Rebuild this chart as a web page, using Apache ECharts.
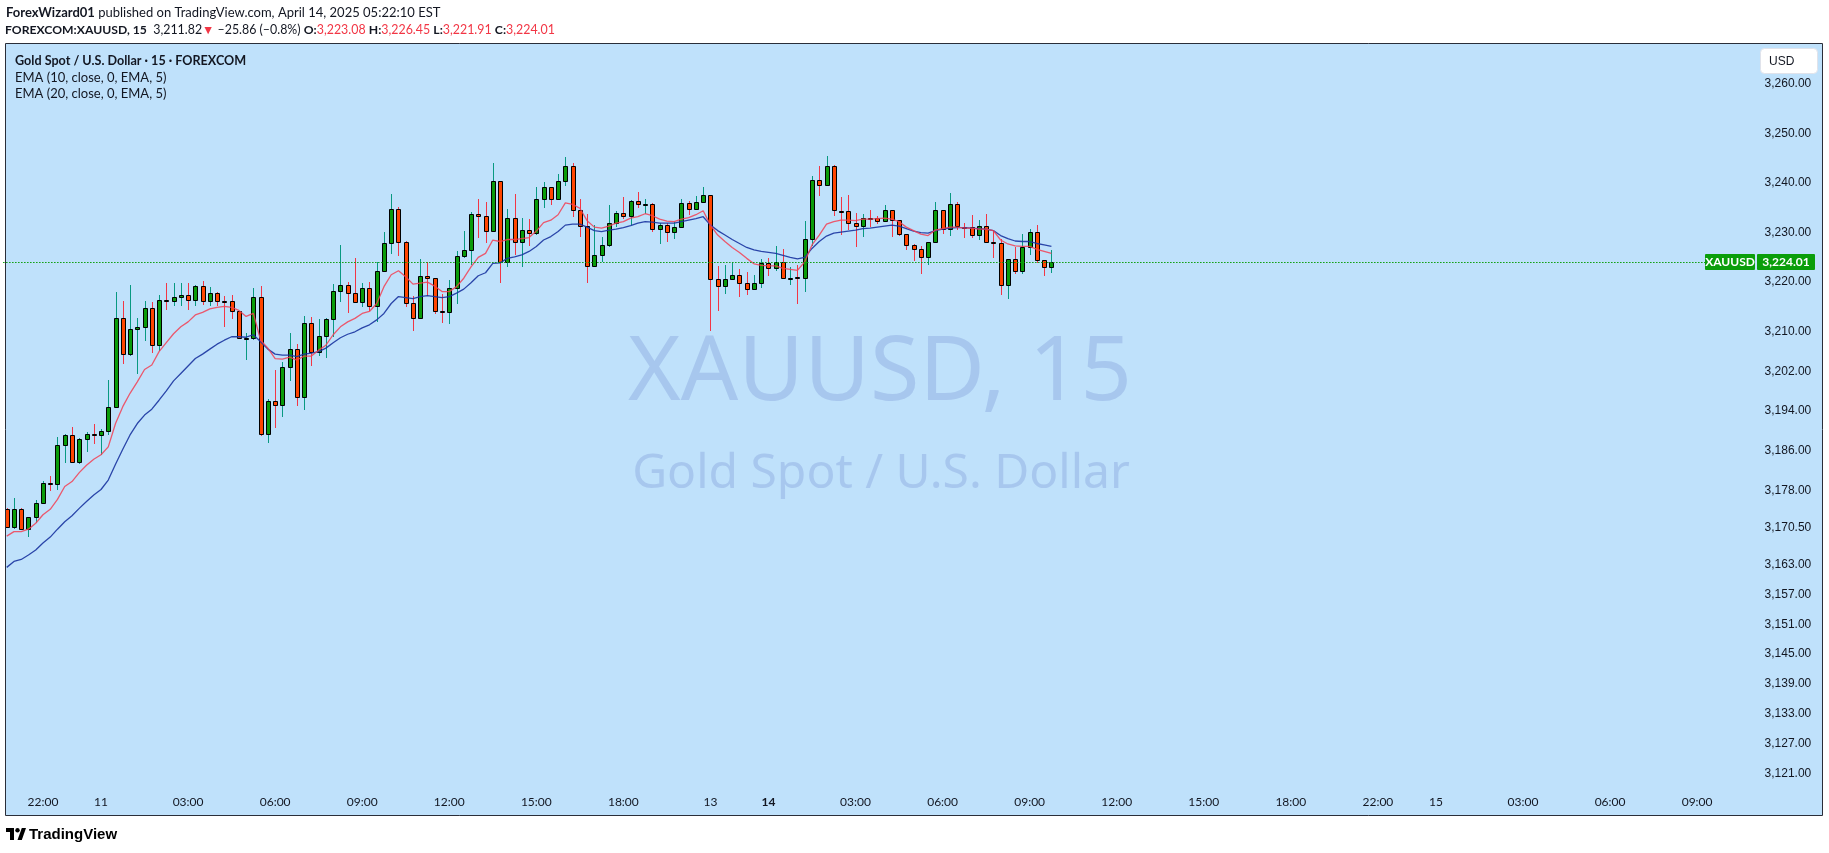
<!DOCTYPE html>
<html>
<head>
<meta charset="utf-8">
<script src="https://cdn.jsdelivr.net/npm/echarts@6/dist/echarts.min.js"></script>
<style>
html,body{margin:0;padding:0;background:#ffffff;}
#chart{width:1829px;height:853px;}
#err{position:absolute;left:600px;top:2px;font:12px monospace;color:#c00;white-space:pre;}
</style>
</head>
<body>
<div id="chart"></div>
<div id="err"></div>
<script>
window.onerror = function(msg, src, line, col, e){ document.getElementById('err').textContent += msg + ' @' + line + ':' + col + '\n'; };
</script>
<script>
// ---------------- DATA ----------------
const opens = [3174.2,3170.7,3174.2,3170.2,3172.7,3175.4,3179.6,3179.4,3187.1,3189.1,
3183.7,3188.3,3189.3,3189.1,3189.9,3194.9,3212.7,3205.6,3210.5,3210.9,
3214.7,3207.3,3216.4,3216.3,3217.1,3217.5,3216.5,3219.2,3216.3,3217.8,
3216.3,3216.3,3214.1,3208.7,3208.7,3217.0,3189.3,3196.0,3195.2,3202.8,
3206.5,3196.8,3211.7,3205.9,3209.1,3212.5,3218.2,3219.4,3217.8,3216.1,
3218.8,3215.1,3222.2,3227.8,3234.7,3228.0,3215.9,3212.7,3221.2,3220.8,
3214.1,3213.9,3218.8,3225.2,3226.4,3233.7,3233.3,3230.3,3240.3,3224.0,
3232.9,3228.0,3230.5,3230.0,3236.7,3239.1,3236.7,3240.3,3243.4,3234.5,
3231.3,3223.2,3225.4,3227.4,3231.9,3233.9,3233.3,3236.3,3235.7,3235.7,
3230.7,3231.5,3230.1,3231.1,3235.9,3234.7,3236.1,3237.5,3220.6,3219.2,
3220.6,3221.4,3219.8,3218.6,3219.8,3223.8,3222.8,3224.0,3220.85,3221.1,
3220.8,3228.8,3240.5,3239.5,3243.4,3234.4,3234.3,3231.9,3231.3,3232.9,
3232.9,3232.3,3234.5,3232.5,3229.8,3227.4,3226.6,3225.0,3228.0,3234.5,
3230.7,3235.7,3231.2,3231.1,3229.5,3231.3,3228.2,3227.8,3219.4,3224.6,
3222.2,3227.0,3230.1,3224.4,3223.08];
const closes = [3170.7,3174.2,3170.2,3172.7,3175.4,3179.6,3179.6,3187.1,3189.1,3183.7,
3188.3,3189.3,3189.3,3189.9,3194.9,3212.7,3205.6,3210.5,3210.9,3214.7,
3207.3,3216.5,3216.4,3217.1,3217.5,3216.5,3219.2,3216.3,3217.8,3216.3,
3216.3,3214.1,3208.7,3208.75,3217.0,3189.3,3196.0,3195.2,3202.8,3206.5,
3196.8,3211.7,3205.9,3209.1,3212.5,3218.2,3219.4,3217.8,3216.1,3218.8,
3215.1,3222.2,3227.8,3234.7,3228.0,3215.9,3212.7,3221.2,3220.8,3214.1,
3214.1,3218.8,3225.2,3226.4,3233.7,3233.3,3230.3,3240.3,3224.0,3232.9,
3228.0,3230.5,3230.0,3236.7,3239.1,3236.7,3240.3,3243.4,3234.5,3231.3,
3223.2,3225.4,3227.4,3231.9,3233.9,3233.3,3236.3,3235.7,3235.75,3230.7,
3231.5,3230.1,3231.1,3235.9,3234.7,3236.1,3237.5,3220.6,3219.2,3220.6,
3221.4,3219.8,3218.6,3219.8,3223.8,3222.8,3224.0,3220.8,3220.9,3221.1,
3228.8,3240.5,3239.5,3243.4,3234.5,3234.4,3231.9,3231.3,3232.9,3232.9,
3232.3,3234.5,3232.5,3229.8,3227.4,3226.6,3225.0,3228.0,3234.5,3230.7,
3235.7,3231.3,3231.2,3229.5,3231.3,3228.2,3227.8,3219.4,3224.6,3222.2,
3227.0,3230.1,3224.4,3223.0,3224.01];
const lows = [3170.7,3170.3,3170.2,3168.6,3171.4,3175.4,3177.8,3178.1,3183.5,3183.7,
3183.3,3185.8,3187.4,3185.2,3189.1,3194.9,3203.6,3205.2,3201.4,3208.2,
3205.8,3206.2,3214.4,3215.1,3215.1,3214.3,3215.1,3215.3,3215.1,3215.1,
3211.0,3212.6,3208.7,3204.3,3208.3,3189.0,3187.5,3190.5,3192.9,3200.1,
3195.1,3194.2,3203.0,3205.2,3204.8,3208.9,3216.1,3213.7,3215.9,3214.9,
3214.1,3212.0,3222.2,3225.6,3225.3,3215.0,3210.2,3212.7,3217.3,3213.5,
3211.7,3211.5,3215.5,3224.8,3223.4,3229.0,3227.8,3230.3,3219.9,3223.1,
3225.4,3223.1,3227.2,3229.6,3234.9,3235.5,3236.7,3239.3,3233.2,3229.2,
3219.9,3223.2,3224.0,3227.0,3231.1,3232.7,3231.5,3235.0,3233.7,3230.1,
3227.6,3228.0,3228.8,3231.1,3233.6,3234.7,3236.1,3210.2,3214.1,3217.6,
3220.6,3217.1,3217.5,3218.4,3218.8,3221.2,3222.2,3220.8,3219.4,3215.7,
3218.0,3227.2,3237.3,3239.3,3233.3,3229.6,3230.5,3227.0,3229.2,3231.1,
3231.7,3232.3,3229.2,3229.4,3226.4,3224.2,3221.6,3223.4,3228.0,3229.8,
3229.4,3230.5,3229.0,3229.0,3228.6,3228.2,3224.9,3217.5,3216.7,3221.6,
3221.6,3225.4,3223.8,3221.2,3221.91];
const highs = [3174.4,3176.5,3174.5,3172.7,3176.1,3180.0,3180.9,3188.7,3189.4,3190.9,
3188.5,3189.7,3191.4,3190.3,3200.3,3218.0,3216.2,3219.4,3212.7,3216.2,
3216.0,3217.5,3219.8,3219.8,3219.8,3219.8,3219.4,3220.2,3219.0,3218.0,
3217.2,3217.4,3214.1,3209.7,3218.8,3219.2,3196.4,3202.3,3204.0,3209.7,
3207.5,3213.2,3212.9,3212.5,3212.7,3219.6,3227.4,3220.0,3224.9,3219.8,
3220.0,3224.1,3230.1,3237.8,3235.1,3228.4,3217.3,3224.6,3224.0,3220.8,
3217.7,3220.4,3226.2,3230.3,3234.1,3236.7,3236.1,3244.0,3240.3,3234.7,
3237.8,3232.9,3232.7,3239.1,3240.1,3239.1,3241.8,3245.2,3244.0,3236.7,
3233.8,3231.6,3229.1,3235.6,3234.4,3237.2,3236.6,3238.2,3236.7,3235.9,
3231.9,3231.9,3232.1,3236.7,3236.3,3237.3,3239.1,3237.5,3223.2,3223.4,
3224.0,3222.6,3222.0,3221.4,3224.6,3224.8,3227.2,3226.6,3223.0,3223.4,
3232.3,3241.4,3243.4,3245.4,3243.6,3237.1,3237.5,3233.9,3233.7,3234.5,
3233.3,3235.5,3234.5,3232.5,3229.8,3227.7,3227.2,3228.0,3236.2,3234.5,
3238.0,3236.1,3231.9,3233.5,3232.5,3233.7,3230.5,3228.8,3224.6,3227.0,
3229.8,3230.7,3231.5,3224.4,3226.45];
const ema10 = [3168.8,3169.7,3169.7,3170.2,3171.4,3173.1,3174.2,3176.2,3178.8,3179.8,
3181.6,3183.1,3184.3,3185.2,3186.8,3191.5,3194.9,3197.6,3199.9,3202.4,
3203.3,3206.0,3207.8,3209.6,3211.0,3212.0,3213.4,3213.9,3214.6,3214.9,
3215.1,3214.9,3214.3,3213.1,3213.7,3208.3,3206.7,3204.6,3204.5,3204.9,
3204.3,3205.1,3205.1,3206.3,3207.3,3209.4,3211.0,3212.0,3212.7,3213.7,
3214.1,3215.7,3219.1,3221.5,3222.3,3221.1,3219.6,3219.8,3220.0,3219.2,
3218.1,3218.1,3219.1,3220.8,3223.1,3225.0,3225.8,3228.5,3228.2,3228.6,
3228.6,3228.8,3229.0,3230.3,3232.0,3232.5,3233.6,3236.0,3235.7,3234.9,
3232.4,3231.1,3230.9,3231.3,3231.9,3232.2,3232.9,3233.2,3233.8,3233.4,
3232.7,3232.3,3232.2,3232.7,3233.0,3233.6,3234.4,3231.5,3229.5,3228.2,
3227.0,3226.0,3224.8,3223.7,3223.4,3223.3,3223.3,3222.8,3222.6,3222.4,
3224.1,3227.5,3229.5,3231.7,3232.2,3232.5,3232.5,3232.4,3232.7,3232.7,
3232.8,3232.9,3232.7,3232.2,3231.1,3230.4,3229.7,3229.4,3230.5,3230.8,
3231.1,3231.1,3230.9,3230.9,3230.7,3230.7,3230.4,3228.5,3227.7,3227.3,
3227.2,3227.2,3226.6,3226.2,3225.8];
const ema20 = [3162.5,3163.7,3164.1,3165.0,3166.0,3167.4,3168.6,3170.2,3171.7,3172.9,
3174.4,3175.8,3177.1,3178.2,3180.1,3183.3,3186.3,3189.2,3191.5,3193.2,
3194.4,3196.2,3198.1,3200.1,3201.6,3203.1,3204.6,3205.5,3206.5,3207.5,
3208.3,3209.0,3209.0,3208.9,3209.4,3208.0,3206.5,3205.5,3205.3,3205.3,
3205.0,3205.5,3205.7,3206.0,3206.7,3207.8,3208.8,3209.5,3210.0,3210.8,
3211.4,3212.4,3213.7,3215.7,3217.1,3216.9,3216.7,3217.1,3217.3,3217.1,
3216.9,3217.1,3217.8,3218.6,3219.9,3221.3,3221.9,3223.8,3223.9,3224.8,
3225.1,3225.5,3226.2,3227.2,3228.5,3229.2,3230.2,3231.5,3231.7,3231.7,
3231.1,3230.4,3230.2,3230.5,3230.7,3231.0,3231.4,3231.9,3232.2,3232.1,
3231.9,3231.9,3231.9,3232.2,3232.5,3232.8,3233.2,3231.5,3230.4,3229.5,
3228.6,3227.8,3227.0,3226.5,3226.2,3226.0,3225.8,3225.4,3225.0,3224.7,
3225.0,3226.8,3228.2,3229.3,3229.9,3230.1,3230.3,3230.5,3230.8,3230.9,
3231.1,3231.3,3231.5,3231.3,3230.8,3230.3,3230.0,3229.9,3230.4,3230.7,
3230.9,3231.0,3231.0,3230.9,3230.8,3230.7,3230.4,3229.4,3228.8,3228.3,
3228.2,3228.2,3227.8,3227.5,3227.2];
const priceTicks = [3121,3127,3133,3139,3145,3151,3157,3163,3170.5,3178,3186,3194,3202,3210,3220,3230,3240,3250,3260];
const timeTickLabels = {
  '04-10 22:00':'22:00','04-11 00:00':'11','04-11 03:00':'03:00','04-11 06:00':'06:00',
  '04-11 09:00':'09:00','04-11 12:00':'12:00','04-11 15:00':'15:00','04-11 18:00':'18:00',
  '04-13 22:00':'13','04-14 00:00':'14','04-14 03:00':'03:00','04-14 06:00':'06:00',
  '04-14 09:00':'09:00','04-14 12:00':'12:00','04-14 15:00':'15:00','04-14 18:00':'18:00',
  '04-14 22:00':'22:00','04-15 00:00':'15','04-15 03:00':'03:00','04-15 06:00':'06:00',
  '04-15 09:00':'09:00'
};
const boldTimeLabels = ['14'];
const headerLine1 = ['ForexWizard01', ' published on TradingView.com, April 14, 2025 05:22:10 EST'];
const headerLine2 = [
  ['FOREXCOM:XAUUSD, 15','b'], ['  3,211.82','n'], ['\u25bc','r'], [' \u201325.86 (\u20130.8%) ','n'],
  ['O:','b'], ['3,223.08','r'], [' ','n'], ['H:','b'], ['3,226.45','r'], [' ','n'], ['L:','b'], ['3,221.91','r'], [' ','n'], ['C:','b'], ['3,224.01','r']
];
const legendTitle = 'Gold Spot / U.S. Dollar \u00b7 15 \u00b7 FOREXCOM';
const legendLines = ['EMA (10, close, 0, EMA, 5)', 'EMA (20, close, 0, EMA, 5)'];
const watermark = ['XAUUSD, 15', 'Gold Spot / U.S. Dollar'];
const symbolName = 'XAUUSD';

// ---------------- time slots (15 min, session 22:00-21:00 UTC) ----------------
const SLOTS = 240;
const times = [];
(function(){
  let t = Date.UTC(2025,3,10,19,45);
  const p = n => (n<10?'0':'')+n;
  while (times.length < SLOTS) {
    const d = new Date(t), dow = d.getUTCDay(), h = d.getUTCHours();
    const closed = h === 21 || dow === 6 || (dow === 5 && h >= 21) || (dow === 0 && h < 22);
    if (!closed) times.push(p(d.getUTCMonth()+1)+'-'+p(d.getUTCDate())+' '+p(h)+':'+p(d.getUTCMinutes()));
    t += 15*60000;
  }
})();

const candleData = opens.map((o,i)=>[i,o,closes[i],lows[i],highs[i]]);
const lastIdx = closes.length-1, lastClose = closes[lastIdx];

// ---------------- styling ----------------
const C = {
  panel:'#bfe1fb', border:'#2a2e39', text:'#131722', red:'#f23645',
  upBody:'#0a9b0a', downBody:'#ff4500', upWick:'#089981', downWick:'#f23645',
  ema10:'rgba(242,64,84,0.85)', ema20:'rgba(26,52,160,0.9)', wm:'#a7c7ee', last:'#0a9e0a'
};
const FONT = 'Lato, "Liberation Sans", sans-serif';
const fmtPrice = v => v.toLocaleString('en-US',{minimumFractionDigits:2,maximumFractionDigits:2});

const GRID_LEFT = 3.07, BAR = 7.255;
const chart = echarts.init(document.getElementById('chart'), null, {renderer:'canvas'});

const line2Text = headerLine2.map(s=>'{'+s[1]+'|'+s[0]+'}').join('');

const option = {
  backgroundColor:'#ffffff',
  animation:false,
  grid:{left:GRID_LEFT, top:44, width:BAR*SLOTS, height:743, containLabel:false},
  xAxis:{
    type:'category', data:times, boundaryGap:true,
    axisLine:{show:false}, axisTick:{show:false}, splitLine:{show:false},
    axisLabel:{
      interval:(idx,val)=>timeTickLabels[val]!==undefined,
      formatter:(val)=>{const s=timeTickLabels[val]||''; return boldTimeLabels.indexOf(s)>=0?'{b|'+s+'}':s;},
      color:C.text, fontFamily:FONT, fontSize:12, margin:9,
      rich:{b:{fontWeight:'bold',fontFamily:FONT,fontSize:12,color:C.text}}
    }
  },
  yAxis:{
    type:'value', position:'right', min:3118.22, max:3268.02,
    axisLine:{show:false}, axisTick:{show:false}, splitLine:{show:false},
    axisLabel:{
      customValues:priceTicks, formatter:v=>fmtPrice(v), align:'right', margin:67, padding:[3,0,0,0],
      color:C.text, fontFamily:'"Liberation Sans", Arial, sans-serif', fontSize:12
    }
  },
  series:[
    {
      type:'custom', name:'candles', data:candleData, clip:true, z:3,
      encode:{x:0, y:[1,2,3,4]},
      renderItem:function(params, api){
        const i=api.value(0), o=api.value(1), c=api.value(2), l=api.value(3), h=api.value(4);
        const po=api.coord([i,o]), pc=api.coord([i,c]), pl=api.coord([i,l]), ph=api.coord([i,h]);
        const up = c>o;
        const cx = Math.round(po[0]);
        const top = Math.round(Math.min(po[1],pc[1])), bot = Math.round(Math.max(po[1],pc[1]));
        return {type:'group', children:[
          {type:'line', shape:{x1:cx+0.5,y1:Math.round(ph[1]),x2:cx+0.5,y2:Math.round(pl[1])},
            style:{stroke:up?C.upWick:C.downWick, lineWidth:1}},
          {type:'rect', shape:{x:cx-1.5, y:top+0.5, width:4, height:Math.max(bot-top,1)},
            style:{fill:up?C.upBody:C.downBody, stroke:'#000000', lineWidth:1}}
        ]};
      }
    },
    {type:'line', name:'EMA20', data:ema20, showSymbol:false, symbol:'none', z:4,
      lineStyle:{color:C.ema20, width:1.3}},
    {type:'line', name:'EMA10', data:ema10, showSymbol:false, symbol:'none', z:4,
      lineStyle:{color:C.ema10, width:1.3},
      markLine:{silent:true, symbol:'none', label:{show:false}, animation:false,
        data:[{yAxis:lastClose}],
        lineStyle:{color:C.last, type:[1.5,1.5], width:1}}},
    {
      type:'custom', name:'lastPrice', data:[[lastIdx, lastClose]], clip:false, z:10,
      encode:{x:0, y:1},
      renderItem:function(params, api){
        const y = Math.round(api.coord([api.value(0), api.value(1)])[1]);
        return {type:'group', children:[
          {type:'rect', shape:{x:1705,y:y-8,width:50,height:16,r:1}, style:{fill:C.last}},
          {type:'rect', shape:{x:1757,y:y-8,width:58,height:16,r:1}, style:{fill:C.last}},
          {type:'text', style:{x:1730,y:y+0.5,align:'center',verticalAlign:'middle',text:symbolName,font:'bold 12px '+FONT,fill:'#ffffff'}},
          {type:'text', style:{x:1786,y:y+0.5,align:'center',verticalAlign:'middle',text:fmtPrice(api.value(1)),font:'bold 12px '+FONT,fill:'#ffffff'}}
        ]};
      }
    }
  ],
  graphic:{elements:[
    {type:'rect', id:'panel', z:0, silent:true, shape:{x:5.5,y:43.5,width:1817,height:772}, style:{fill:C.panel}},
    {type:'text', id:'wm1', z:1, silent:true, style:{text:watermark[0], x:880, y:374, align:'center', verticalAlign:'middle',
      font:'90px "Noto Sans", sans-serif', fill:C.wm}},
    {type:'text', id:'wm2', z:1, silent:true, style:{text:watermark[1], x:881, y:474, align:'center', verticalAlign:'middle',
      font:'48px "Noto Sans", sans-serif', fill:C.wm}},
    {type:'rect', id:'border', z:100, silent:true, shape:{x:5.5,y:43.5,width:1817,height:772}, style:{fill:null, stroke:C.border, lineWidth:1}},
    {type:'text', id:'h1', z:100, style:{x:6, y:13, verticalAlign:'middle',
      text:'{b|'+headerLine1[0]+'}{n|'+headerLine1[1]+'}',
      rich:{b:{font:'bold 13px '+FONT, fill:C.text}, n:{font:'13px '+FONT, fill:C.text}}}},
    {type:'text', id:'h2', z:100, style:{x:5, y:30, verticalAlign:'middle', text:line2Text,
      rich:{b:{font:'bold 12.2px '+FONT, fill:C.text}, n:{font:'12.4px '+FONT, fill:C.text}, r:{font:'12.4px '+FONT, fill:C.red}}}},
    {type:'text', id:'lg0', z:100, style:{x:15, y:61, verticalAlign:'middle', text:legendTitle, font:'bold 12.6px '+FONT, fill:C.text}},
    {type:'text', id:'lg1', z:100, style:{x:15, y:78, verticalAlign:'middle', text:legendLines[0], font:'13px '+FONT, fill:C.text}},
    {type:'text', id:'lg2', z:100, style:{x:15, y:94, verticalAlign:'middle', text:legendLines[1], font:'13px '+FONT, fill:C.text}},
    {type:'rect', id:'usdbox', z:100, shape:{x:1760.5,y:48.5,width:57,height:25,r:4}, style:{fill:'#ffffff', stroke:'#e0e3eb', lineWidth:1}},
    {type:'text', id:'usd', z:101, style:{x:1769, y:61.5, verticalAlign:'middle', text:'USD', font:'12px "Liberation Sans", sans-serif', fill:C.text}},
    {type:'rect', id:'lg_a', z:100, shape:{x:6,y:828,width:8,height:4}, style:{fill:'#000'}},
    {type:'rect', id:'lg_b', z:100, shape:{x:10,y:828,width:4,height:12}, style:{fill:'#000'}},
    {type:'circle', id:'lg_c', z:100, shape:{cx:17.5,cy:830.2,r:2.2}, style:{fill:'#000'}},
    {type:'polygon', id:'lg_d', z:100, shape:{points:[[17.5,840],[21.8,840],[26,828],[21.8,828]]}, style:{fill:'#000'}},
    {type:'text', id:'tv', z:100, style:{x:29, y:834.5, verticalAlign:'middle', text:'TradingView', font:'bold 15px "Liberation Sans", sans-serif', fill:'#000'}}
  ]}
};
chart.setOption(option);
</script>
</body>
</html>
